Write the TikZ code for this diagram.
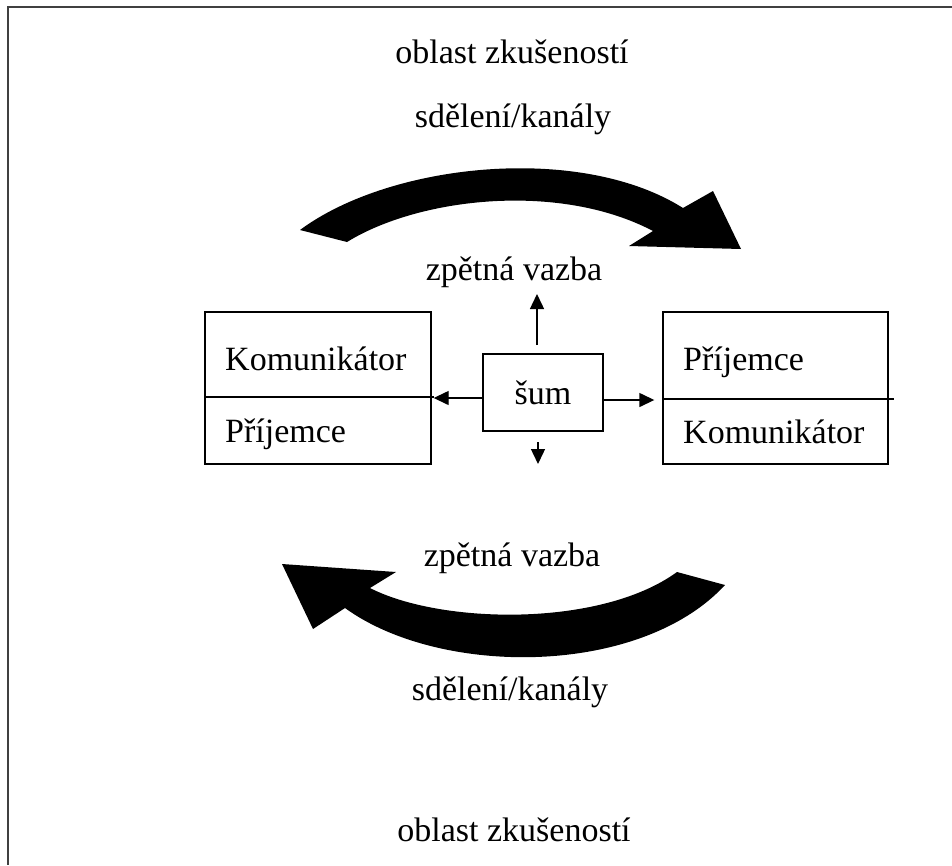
\documentclass[tikz,border=0pt]{standalone}
\usepackage{fontspec}
\setmainfont{Liberation Serif}
\usepackage{tikz}
\usetikzlibrary{
  arrows.meta,
  calc
}
\tikzset{
  every node/.style={font=\fontsize{34}{40}\selectfont},
  label text/.style={anchor=base,inner sep=0pt},
  role box/.style={draw,line width=1.4pt,minimum width=226pt,minimum height=152pt,inner sep=0pt},
  noise box/.style={draw,line width=1.4pt,minimum width=120pt,minimum height=77pt,inner sep=0pt},
  noise arrow/.style={line width=1.4pt,-{Triangle[length=15pt,width=14pt]}},
  big arrow/.style={fill=black,draw=none},
}
\colorlet{frame}{black!75}

\begin{document}
\begin{tikzpicture}[x=1pt,y=-1pt]
\useasboundingbox (0,0) rectangle (952,865);
\draw[frame,line width=2pt] (952,7) -- (8,7) -- (8,865);
% texty nahore a dole
\node[label text] (oblastA) at (512,63) {oblast zkušeností};
\node[label text] (kanalA) at (513,127) {sdělení/kanály};
\node[label text] (vazbaA) at (514,280) {zpětná vazba};
\node[label text] (vazbaB) at (512,566) {zpětná vazba};
\node[label text] (kanalB) at (510,700) {sdělení/kanály};
\node[label text] (oblastB) at (514,841) {oblast zkušeností};
% boxy
\node[role box] (left) at (318,388) {};
\node[role box,minimum width=225pt] (right) at (775.5,388) {};
\node[noise box] (noise) at (543,392.5) {šum};
\draw[line width=1.4pt] (left.west |- 0,397) -- ($(left.east |- 0,397)+(2,0)$);
\draw[line width=1.4pt] (right.west |- 0,399) -- ($(right.east |- 0,399)+(5,0)$);
\node[label text,anchor=base west] (komL) at (225,370) {Komunikátor};
\node[label text,anchor=base west] (priL) at (225,442) {Příjemce};
\node[label text,anchor=base west] (priR) at (683,370) {Příjemce};
\node[label text,anchor=base west] (komR) at (683,443) {Komunikátor};
% sipky od sumu
\draw[noise arrow] (noise.west |- 0,398) -- ($(left.east |- 0,398)+(2,0)$);
\draw[noise arrow] (noise.east |- 0,400) -- ($(right.west |- 0,400)+(-8,0)$);
\coordinate (upA) at (537,345);
\coordinate (upB) at (537,294);
\coordinate (dnA) at (538,442);
\coordinate (dnB) at (538,464);
\draw[noise arrow] (upA) -- (upB);
\draw[noise arrow] (dnA) -- (dnB);
% velke oblouky
\fill[big arrow] (300,230) .. controls (390,163) and (580,143) .. (683,208)
  -- (713,191) -- (741,249) -- (629,246) -- (653,231)
  .. controls (560,182) and (420,197) .. (347,242) -- cycle;
\fill[big arrow] (282,564) -- (396,572) -- (370,588)
  .. controls (440,624) and (600,628) .. (677,572) -- (725,585)
  .. controls (640,677) and (440,677) .. (345,608) -- (313,629) -- cycle;
\end{tikzpicture}
\end{document}
